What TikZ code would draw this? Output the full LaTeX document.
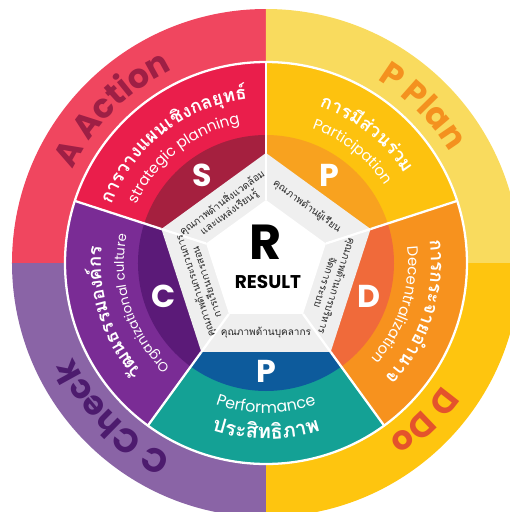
\documentclass[tikz,border=0pt]{standalone}
\usepackage{fontspec}
\setmainfont{Poppins}
\newfontfamily\thaifont[Script=Thai]{Loma}
\usetikzlibrary{decorations.text}

\definecolor{ringA}{HTML}{F0465F}
\definecolor{ringP}{HTML}{F9DB5E}
\definecolor{ringD}{HTML}{FEC50F}
\definecolor{ringC}{HTML}{8A64A6}
\definecolor{txtA}{HTML}{9E1F45}
\definecolor{txtP}{HTML}{F4911F}
\definecolor{txtD}{HTML}{E4532C}
\definecolor{txtC}{HTML}{4D1B6E}
\definecolor{secS}{HTML}{EA1E4B}
\definecolor{secP}{HTML}{FDC20F}
\definecolor{secD}{HTML}{F7921E}
\definecolor{secF}{HTML}{14A195}
\definecolor{secC}{HTML}{7A2C95}
\definecolor{bandS}{HTML}{A5203F}
\definecolor{bandP}{HTML}{F8A21F}
\definecolor{bandD}{HTML}{F06A3A}
\definecolor{bandF}{HTML}{0D5B9C}
\definecolor{bandC}{HTML}{5B1A78}
\definecolor{penta}{HTML}{EFEFEF}

\begin{document}
\begin{tikzpicture}[
    letter/.style={text=white, font=\fontsize{18}{18}\selectfont\bfseries, inner sep=0pt},
    quality/.style={text=black!85, font=\thaifont\fontsize{5.7}{6.8}\selectfont, align=center, inner sep=0pt},
    divider/.style={draw=white, line width=1.3pt}
]
\useasboundingbox (-5.32,-4.98) rectangle (4.88,5.26);
\clip (-5.32,-4.98) rectangle (4.88,5.26);

% Outer ring: PDCA quarters
\fill[ringA] (0,0) -- (90:5.08) arc[start angle=90, end angle=180, radius=5.08] -- cycle;
\fill[ringP] (0,0) -- (0:5.08) arc[start angle=0, end angle=90, radius=5.08] -- cycle;
\fill[ringD] (0,0) -- (-90:5.08) arc[start angle=-90, end angle=0, radius=5.08] -- cycle;
\fill[ringC] (0,0) -- (180:5.08) arc[start angle=180, end angle=270, radius=5.08] -- cycle;

% Middle ring: five sectors with darker band
\foreach \a/\cl/\cb in {126/secS/bandS, 54/secP/bandP, -18/secD/bandD, -90/secF/bandF, 198/secC/bandC} {
  \fill[\cl] (0,0) -- (\a+36:4.02) arc[start angle=\a+36, end angle=\a-36, radius=4.02] -- cycle;
  \fill[\cb] (0,0) -- (\a+36:2.56) arc[start angle=\a+36, end angle=\a-36, radius=2.56] -- cycle;
}
\draw[divider] (0,0) circle (4.02);

% Pentagon
\fill[penta] (90:2.2) -- (18:2.2) -- (-54:2.2) -- (-126:2.2) -- (162:2.2) -- cycle;
\fill[white] (90:1.26) -- (18:1.26) -- (-54:1.26) -- (-126:1.26) -- (162:1.26) -- cycle;
\foreach \v in {90,18,-54,-126,162} {
  \draw[divider] (\v:1.26) -- (\v:2.2);
  \draw[divider] (\v:2.2) -- (\v:4.02);
}

% Letters
\node[letter] (ltrS) at (126:2.16) {S};
\node[letter] (ltrP) at (54:2.16) {P};
\node[letter] (ltrD) at (-18:2.16) {D};
\node[letter] (ltrF) at (-90:2.16) {P};
\node[letter] (ltrC) at (198:2.16) {C};

% Result
\node[font=\fontsize{28}{28}\selectfont\bfseries] (r) at (0,0.42) {R};
\node[font=\fontsize{10.5}{11}\selectfont\bfseries] (result) at (0.04,-0.38) {RESULT};

% Quality sides
\node[quality, rotate=36] (qS) at (126:1.38) {คุณภาพด้านสิ่งแวดล้อม\\และแหล่งเรียนรู้};
\node[quality, rotate=-36] (qP) at (54:1.40) {คุณภาพด้านผู้เรียน};
\node[quality, rotate=-108] (qD) at (-18:1.38) {คุณภาพด้านการบริหาร\\จัดการระบบ};
\node[quality] (qF) at (-90:1.40) {คุณภาพด้านบุคลากร};
\node[quality, rotate=108] (qC) at (198:1.38) {คุณภาพด้านกระบวนการ\\การเรียนการสอน};

% Sector titles
\path[decorate, decoration={text along path, text align=center, text color=white,
  text={|\thaifont\bfseries\fontsize{10.5}{11}\selectfont|การวางแผนเ{ชิ}งกล{ยุ}ท{ธ์}}}]
  (173:3.3) arc[start angle=173, end angle=83, radius=3.3];
\path[decorate, decoration={text along path, text align=center, text color=white,
  text={|\fontsize{8.5}{9}\selectfont|strategic planning}}]
  (173:2.84) arc[start angle=173, end angle=83, radius=2.84];

\path[decorate, decoration={text along path, text align=center, text color=white,
  text={|\thaifont\bfseries\fontsize{10.5}{11}\selectfont|การ{มี}{ส่}วน{ร่}วม}}]
  (97:3.3) arc[start angle=97, end angle=7, radius=3.3];
\path[decorate, decoration={text along path, text align=center, text color=white,
  text={|\fontsize{8.5}{9}\selectfont|Participation}}]
  (97:2.84) arc[start angle=97, end angle=7, radius=2.84];

\path[decorate, decoration={text along path, text align=center, text color=white,
  text={|\thaifont\bfseries\fontsize{10.5}{11}\selectfont|การกระจาย{อำ}นาจ}}]
  (27:3.3) arc[start angle=27, end angle=-63, radius=3.3];
\path[decorate, decoration={text along path, text align=center, text color=white,
  text={|\fontsize{8.5}{9}\selectfont|Decentralization}}]
  (27:2.84) arc[start angle=27, end angle=-63, radius=2.84];

\path[decorate, decoration={text along path, text align=center, text color=white,
  text={|\thaifont\bfseries\fontsize{10.5}{11}\selectfont|{วั}ฒนธรรมอง{ค์}กร}}]
  (243:3.3) arc[start angle=243, end angle=153, radius=3.3];
\path[decorate, decoration={text along path, text align=center, text color=white,
  text={|\fontsize{7.5}{8}\selectfont|Organizational culture}}]
  (243:2.84) arc[start angle=243, end angle=153, radius=2.84];

\path[decorate, decoration={text along path, text align=center, text color=white,
  text={|\thaifont\bfseries\fontsize{11.5}{12}\selectfont|ประ{สิ}ท{ธิ}ภาพ}}]
  (-135:3.52) arc[start angle=-135, end angle=-45, radius=3.52];
\path[decorate, decoration={text along path, text align=center, text color=white,
  text={|\fontsize{9}{9}\selectfont|Performance}}]
  (-135:3.0) arc[start angle=-135, end angle=-45, radius=3.0];

% Outer labels
\path[decorate, decoration={text along path, text align=center, text color=txtA,
  text={|\fontsize{19}{19}\selectfont\bfseries|A Action}}]
  (180:4.29) arc[start angle=180, end angle=90, radius=4.29];
\path[decorate, decoration={text along path, text align=center, text color=txtP,
  text={|\fontsize{19}{19}\selectfont\bfseries|P Plan}}]
  (90:4.29) arc[start angle=90, end angle=0, radius=4.29];
\path[decorate, decoration={text along path, text align=center, text color=txtD,
  text={|\fontsize{19}{19}\selectfont\bfseries|D Do}}]
  (0:4.29) arc[start angle=0, end angle=-90, radius=4.29];
\path[decorate, decoration={text along path, text align=center, text color=txtC,
  text={|\fontsize{19}{19}\selectfont\bfseries|C Check}}]
  (270:4.29) arc[start angle=270, end angle=180, radius=4.29];

\end{tikzpicture}
\end{document}
